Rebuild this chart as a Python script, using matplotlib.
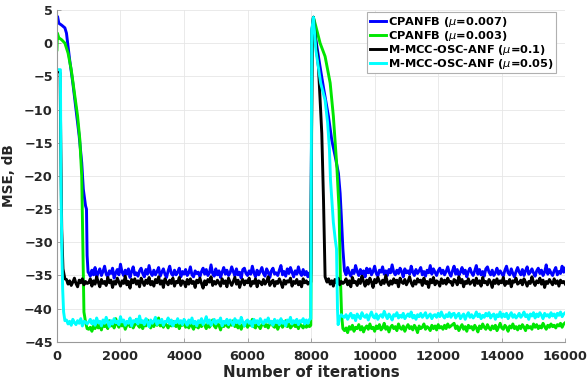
import numpy as np
import matplotlib
matplotlib.use("Agg")
import matplotlib.pyplot as plt

plt.rcParams["font.family"] = ["DejaVu Sans"]

# iteration grids for the two steady-state stretches
ss1_it = np.arange(1000, 8000, 50)
ss2_it = np.arange(9050, 16001, 50)

# ---- CPANFB (mu=0.007), blue
blue_head_x = [0, 20, 60, 150, 250, 300, 400, 500, 600, 700, 780, 830, 870, 900, 930, 950, 980]
blue_head_y = [3.5, 4.0, 3.0, 2.7, 2.3, 1.5, -2.5, -6.0, -10.0, -14.0, -18.0, -22.0, -23.5, -24.5, -25.0, -32.0, -34.5]
blue_ss1 = [-34.6, -35.1, -34.2, -34.9, -33.8, -35.3, -34.5, -34.0, -35.0, -34.4,
            -33.6, -34.8, -35.2, -34.3, -34.7, -33.9, -35.4, -34.6, -34.1, -34.9,
            -33.3, -34.5, -35.0, -34.2, -34.8, -34.0, -35.3, -34.4, -33.7, -34.9,
            -34.6, -35.1, -34.3, -33.9, -34.7, -35.2, -34.1, -34.8, -33.5, -34.6,
            -35.0, -34.2, -34.9, -34.4, -33.8, -35.1, -34.5, -34.0, -34.8, -35.3,
            -34.3, -33.6, -34.7, -35.0, -34.2, -34.9, -34.5, -33.9, -35.2, -34.4,
            -34.8, -34.1, -35.0, -34.6, -33.7, -34.9, -35.2, -34.3, -34.7, -34.5,
            -35.2, -34.4, -33.9, -34.8, -34.1, -35.0, -34.6, -33.4, -34.7, -35.1,
            -34.0, -34.9, -34.3, -35.3, -34.5, -33.8, -34.8, -34.2, -35.0, -34.6,
            -33.7, -34.4, -35.1, -34.0, -34.9, -34.5, -35.4, -34.1, -33.9, -34.7,
            -35.0, -34.3, -34.8, -33.6, -34.6, -35.2, -34.2, -34.9, -34.4, -33.8,
            -34.7, -35.1, -34.0, -34.5, -35.3, -34.3, -33.9, -34.8, -34.6, -35.0,
            -34.2, -33.5, -34.9, -34.4, -35.1, -34.0, -34.7, -33.8, -34.5, -35.2,
            -34.3, -34.8, -33.7, -34.6, -35.0, -34.1, -34.9, -34.4, -35.2, -34.6]
blue_mid_x = [7990, 8030, 8073, 8150, 8280, 8400, 8545, 8650, 8755, 8860, 8913, 8950, 9000]
blue_mid_y = [-34.8, 2.0, 3.9, 0.5, -3.5, -7.0, -11.0, -14.6, -17.0, -19.6, -22.6, -26.0, -31.0]
blue_ss2 = [-34.3, -34.9, -33.8, -34.6, -35.1, -34.2, -34.7, -33.5, -34.4, -35.0,
            -34.1, -34.8, -34.3, -35.2, -33.9, -34.6, -34.0, -34.9, -34.4, -33.6,
            -34.7, -35.1, -34.2, -34.5, -33.7, -34.8, -34.3, -35.0, -34.1, -34.6,
            -33.4, -34.5, -34.9, -34.2, -34.7, -33.9, -34.4, -35.2, -34.0, -34.6,
            -34.3, -34.8, -33.6, -34.5, -35.0, -34.1, -34.7, -34.3, -33.8, -34.9,
            -34.4, -35.1, -34.2, -34.6, -33.5, -34.8, -34.0, -34.5, -35.0, -34.3,
            -33.9, -34.7, -34.2, -34.9, -34.4, -33.7, -34.6, -35.1, -34.3, -33.6,
            -34.8, -34.1, -35.0, -34.5, -33.8, -34.7, -34.2, -35.2, -34.4, -33.9,
            -34.6, -35.0, -34.3, -33.5, -34.8, -34.1, -34.9, -34.4, -35.1, -34.0,
            -33.7, -34.5, -34.9, -34.2, -35.0, -34.6, -33.9, -34.8, -34.3, -34.7,
            -35.1, -34.2, -33.6, -34.6, -34.9, -34.0, -34.7, -35.2, -34.4, -33.8,
            -34.5, -34.9, -34.1, -35.0, -34.3, -33.7, -34.8, -34.5, -34.0, -34.6,
            -35.1, -34.3, -33.9, -34.7, -34.2, -35.0, -34.5, -33.4, -34.8, -34.1,
            -34.6, -35.0, -34.3, -33.8, -34.9, -34.4, -34.7, -33.6, -34.5, -33.9]

# ---- CPANFB (mu=0.003), green
green_head_x = [0, 15, 60, 150, 250, 350, 450, 550, 650, 720, 780, 800, 830, 850, 900, 950]
green_head_y = [-1.0, 1.5, 0.8, 0.5, 0.0, -1.5, -4.0, -7.5, -11.0, -14.5, -20.0, -26.0, -35.0, -40.5, -42.0, -43.0]
green_ss1 = [-43.1, -42.8, -43.4, -42.6, -43.0, -42.3, -42.9, -42.5, -43.2, -42.1,
             -42.7, -42.4, -43.0, -41.8, -42.6, -42.2, -42.9, -41.5, -42.4, -42.8,
             -42.0, -42.6, -42.3, -43.1, -42.5, -41.9, -42.7, -42.2, -42.9, -42.4,
             -41.6, -42.5, -42.8, -42.1, -43.0, -42.3, -42.6, -41.7, -42.4, -42.9,
             -42.2, -42.7, -42.0, -42.5, -41.4, -42.6, -42.3, -42.8, -42.1, -42.5,
             -42.9, -42.2, -42.6, -41.9, -42.4, -42.7, -42.0, -43.0, -42.3, -42.5,
             -42.1, -42.8, -42.4, -42.9, -42.2, -42.6, -43.1, -42.4, -42.7, -42.9,
             -42.3, -42.7, -41.9, -42.5, -43.0, -42.2, -42.8, -42.4, -41.7, -42.6,
             -42.9, -42.1, -42.5, -43.2, -42.3, -42.7, -42.0, -42.6, -42.8, -42.2,
             -42.5, -41.8, -42.7, -42.3, -42.9, -42.1, -43.1, -42.4, -42.6, -42.0,
             -42.8, -42.3, -42.5, -41.6, -42.7, -42.9, -42.2, -42.6, -43.0, -42.4,
             -42.1, -42.7, -42.4, -42.9, -42.3, -41.9, -42.6, -42.8, -42.2, -43.1,
             -42.5, -42.2, -42.8, -42.4, -41.8, -42.7, -42.3, -42.9, -42.6, -42.1,
             -42.7, -42.4, -43.0, -42.3, -42.6, -42.9, -42.2, -42.8, -42.5, -42.7]
green_mid_x = [7990, 8030, 8073, 8150, 8283, 8440, 8600, 8700, 8810, 8880, 8920, 8960, 9000]
green_mid_y = [-42.5, 1.5, 3.9, 2.5, 0.0, -2.0, -6.0, -11.0, -18.6, -25.0, -35.0, -41.0, -43.0]
green_ss2 = [-43.3, -42.9, -43.6, -42.7, -43.1, -42.5, -43.4, -42.8, -43.0, -42.4,
             -43.2, -42.7, -43.5, -42.9, -42.6, -43.1, -42.3, -43.0, -42.8, -43.4,
             -42.6, -43.0, -42.4, -43.2, -42.9, -42.2, -43.1, -42.7, -43.5, -42.8,
             -42.5, -43.0, -42.7, -43.3, -42.3, -42.9, -43.1, -42.6, -43.4, -42.8,
             -42.4, -43.0, -42.7, -43.2, -42.5, -42.9, -43.6, -42.6, -43.0, -42.8,
             -42.3, -43.1, -42.7, -42.9, -43.3, -42.5, -43.0, -42.6, -43.2, -42.4,
             -42.9, -42.7, -43.1, -42.5, -43.0, -42.3, -42.8, -42.6, -42.4, -42.2,
             -43.0, -42.6, -43.3, -42.8, -42.4, -43.1, -42.7, -43.4, -42.5, -42.9,
             -42.7, -43.2, -42.5, -42.9, -43.5, -42.6, -43.0, -42.3, -42.8, -43.1,
             -42.4, -42.9, -43.2, -42.6, -43.0, -42.5, -43.3, -42.8, -42.2, -42.9,
             -43.1, -42.5, -42.8, -43.4, -42.6, -42.9, -42.3, -43.0, -42.7, -43.2,
             -42.6, -43.0, -42.4, -42.8, -43.3, -42.5, -42.9, -42.7, -43.1, -42.3,
             -42.8, -42.4, -43.0, -42.6, -42.9, -42.2, -42.7, -43.1, -42.5, -42.8,
             -42.3, -42.7, -42.5, -42.9, -42.4, -42.6, -42.2, -42.8, -42.3, -42.1]

# ---- M-MCC-OSC-ANF (mu=0.1), black
black_head_x = [0, 100, 120, 150, 190, 250, 300, 350, 400, 450, 500, 550, 600, 650,
                700, 750, 800, 850, 900, 950]
black_head_y = [-4.0, -4.5, -15.0, -28.0, -34.0, -35.5, -35.6, -36.3, -35.8, -36.5,
                -36.0, -35.4, -36.2, -36.7, -35.7, -36.1, -35.5, -36.4, -35.9, -36.2]
black_ss1 = [-36.1, -35.5, -36.6, -35.8, -36.3, -35.2, -36.0, -36.7, -35.6, -36.2,
             -35.9, -36.5, -35.3, -36.1, -35.7, -36.8, -35.9, -36.3, -35.4, -36.0,
             -36.6, -35.8, -36.2, -35.1, -36.4, -35.9, -36.9, -35.6, -36.1, -35.5,
             -36.3, -35.8, -36.7, -35.4, -36.0, -36.5, -35.7, -36.2, -35.3, -36.4,
             -35.9, -36.6, -35.6, -36.1, -35.2, -36.3, -35.8, -36.8, -35.5, -36.0,
             -36.4, -35.7, -36.2, -35.4, -36.6, -35.9, -36.1, -35.3, -36.5, -35.8,
             -36.0, -36.7, -35.6, -36.3, -35.5, -36.2, -35.9, -36.8, -35.7, -36.1,
             -35.4, -36.2, -36.9, -35.8, -36.4, -35.6, -36.0, -35.2, -36.5, -35.9,
             -36.3, -35.7, -36.1, -36.6, -35.5, -36.2, -35.8, -36.7, -35.4, -36.0,
             -36.5, -35.9, -35.3, -36.3, -35.7, -36.8, -36.0, -35.6, -36.4, -35.8,
             -36.1, -35.4, -36.6, -35.9, -36.2, -35.5, -36.7, -35.8, -36.0, -36.4,
             -35.6, -36.3, -35.9, -35.2, -36.5, -36.0, -35.7, -36.6, -35.9, -36.2,
             -35.5, -36.1, -36.8, -35.7, -36.3, -35.8, -36.0, -35.4, -36.6, -35.9,
             -36.2, -35.6, -36.4, -35.9, -36.7, -35.5, -36.1, -35.8, -36.3, -36.0]
black_mid_x = [7990, 8030, 8073, 8150, 8230, 8336, 8390, 8420, 8440, 8500, 8550, 8600,
               8650, 8700, 8750, 8800, 8850, 8900, 8950, 9000]
black_mid_y = [-36.0, 2.0, 3.9, 0.0, -3.5, -13.6, -23.6, -31.0, -35.2, -36.0, -35.5, -36.3,
               -35.8, -36.6, -35.6, -36.1, -35.4, -36.4, -35.9, -36.2]
black_ss2 = [-36.0, -35.5, -36.4, -35.8, -36.7, -35.3, -36.1, -35.9, -36.5, -35.6,
             -36.2, -35.1, -35.9, -36.6, -35.7, -36.3, -35.4, -36.0, -36.8, -35.6,
             -36.1, -35.3, -35.9, -36.4, -35.7, -36.2, -35.0, -36.0, -36.5, -35.8,
             -36.3, -35.5, -36.1, -35.7, -36.7, -35.4, -36.0, -36.2, -35.6, -36.4,
             -35.9, -35.2, -36.1, -36.6, -35.8, -36.3, -35.5, -36.0, -35.7, -36.5,
             -35.4, -36.2, -35.9, -36.8, -35.6, -36.1, -35.3, -36.4, -35.8, -36.0,
             -36.6, -35.5, -36.2, -35.7, -36.3, -35.4, -36.0, -35.9, -36.5, -35.6,
             -35.8, -36.4, -35.2, -36.1, -35.6, -36.7, -35.9, -36.2, -35.5, -36.3,
             -36.0, -35.7, -36.5, -35.4, -36.2, -35.8, -36.6, -35.3, -36.1, -35.9,
             -36.4, -35.6, -36.0, -36.8, -35.7, -36.2, -35.5, -36.3, -35.8, -36.1,
             -35.3, -36.5, -35.9, -36.2, -35.6, -36.7, -35.8, -36.0, -35.4, -36.3,
             -36.1, -35.7, -36.4, -35.5, -36.0, -36.6, -35.9, -36.2, -35.2, -36.0,
             -36.5, -35.8, -36.1, -35.4, -36.3, -35.7, -36.8, -35.9, -36.2, -35.6,
             -36.0, -36.4, -35.5, -36.2, -35.8, -36.6, -35.7, -36.1, -35.9, -36.3]

# ---- M-MCC-OSC-ANF (mu=0.05), cyan
cyan_head_x = [0, 110, 115, 125, 150, 180, 210, 250, 300, 350, 400, 450, 500, 550, 600,
               650, 700, 750, 800, 850, 900, 950]
cyan_head_y = [-4.0, -4.0, -10.0, -20.0, -30.0, -37.0, -40.5, -41.8, -41.7, -42.3, -41.9,
               -42.5, -41.6, -42.1, -42.4, -41.8, -42.2, -41.5, -42.6, -41.9, -42.0, -42.3]
cyan_ss1 = [-42.0, -41.6, -42.3, -41.8, -42.5, -41.4, -42.1, -41.9, -42.6, -41.7,
            -42.2, -41.3, -42.0, -42.7, -41.8, -42.3, -41.5, -42.1, -41.9, -42.4,
            -41.2, -42.0, -41.7, -42.5, -41.9, -42.2, -41.4, -42.6, -41.8, -42.0,
            -41.6, -42.3, -41.1, -42.1, -41.8, -42.4, -41.5, -42.0, -42.7, -41.7,
            -42.2, -41.9, -41.3, -42.4, -41.8, -42.1, -41.6, -42.5, -41.9, -42.0,
            -41.4, -42.3, -41.7, -42.6, -41.9, -42.1, -41.5, -42.2, -41.8, -42.4,
            -41.6, -42.0, -42.5, -41.7, -42.2, -41.4, -42.3, -41.9, -42.6, -41.8,
            -42.1, -41.5, -42.4, -41.9, -41.2, -42.2, -41.7, -42.5, -42.0, -41.6,
            -42.3, -41.8, -42.0, -41.4, -42.6, -41.9, -42.2, -41.6, -42.4, -41.7,
            -42.0, -42.5, -41.5, -42.1, -41.8, -42.3, -41.3, -42.0, -42.6, -41.9,
            -41.7, -42.2, -41.9, -42.7, -41.6, -42.1, -41.8, -42.4, -41.5, -42.0,
            -42.3, -41.7, -42.0, -41.4, -42.2, -41.9, -42.5, -41.6, -42.1, -41.8,
            -42.4, -41.5, -42.2, -41.9, -42.6, -41.7, -42.0, -41.3, -42.3, -41.8,
            -42.1, -41.6, -42.4, -41.8, -42.0, -41.5, -42.3, -41.7, -42.2, -41.6]
cyan_mid_x = [7990, 8020, 8073, 8150, 8300, 8440, 8520, 8577, 8610, 8700, 8760, 8800,
              8830, 8850, 8900, 8950, 9000]
cyan_mid_y = [-41.5, 2.0, 3.9, -1.0, -6.0, -8.6, -12.0, -16.0, -20.6, -27.0, -29.6, -31.0,
              -40.0, -42.4, -41.3, -40.9, -41.2]
cyan_ss2 = [-41.3, -40.9, -41.6, -41.1, -40.7, -41.4, -41.0, -41.8, -40.8, -41.2,
            -41.5, -40.6, -41.1, -41.3, -40.9, -41.7, -41.0, -40.5, -41.2, -41.4,
            -40.8, -41.6, -41.1, -40.9, -41.3, -40.4, -41.0, -41.5, -40.8, -41.2,
            -41.7, -40.9, -41.1, -40.6, -41.4, -41.0, -41.3, -40.7, -41.5, -41.1,
            -40.8, -41.2, -40.5, -41.4, -41.0, -41.6, -40.9, -41.2, -40.7, -41.3,
            -41.0, -40.6, -41.4, -41.1, -40.8, -41.5, -41.0, -40.9, -41.3, -40.7,
            -41.2, -40.5, -41.1, -41.4, -40.9, -41.2, -40.6, -41.3, -40.8, -40.7,
            -41.4, -41.0, -40.7, -41.5, -41.1, -40.8, -41.6, -41.0, -40.6, -41.3,
            -40.9, -41.4, -41.1, -40.5, -41.2, -40.8, -41.5, -41.0, -41.3, -40.7,
            -41.1, -40.6, -41.4, -41.0, -40.8, -41.6, -40.9, -41.2, -40.5, -41.3,
            -40.8, -41.2, -40.7, -41.5, -41.0, -40.6, -41.3, -40.9, -41.4, -41.1,
            -40.7, -41.3, -41.0, -40.5, -41.2, -40.9, -41.6, -40.8, -41.1, -40.6,
            -41.4, -40.8, -41.2, -40.6, -41.0, -41.5, -40.7, -41.1, -40.9, -41.3,
            -40.6, -41.1, -40.8, -41.4, -40.7, -41.0, -40.5, -41.2, -40.8, -40.6]

labels = [r"CPANFB ($\mu$=0.007)", r"CPANFB ($\mu$=0.003)",
          r"M-MCC-OSC-ANF ($\mu$=0.1)", r"M-MCC-OSC-ANF ($\mu$=0.05)"]
colors = ["#0000ff", "#00e600", "#000000", "#00ffff"]


def series(hx, hy, s1, mx, my, s2):
    x = np.concatenate([hx, ss1_it, mx, ss2_it])
    y = np.concatenate([hy, s1, my, s2])
    return x, y


curves = [series(blue_head_x, blue_head_y, blue_ss1, blue_mid_x, blue_mid_y, blue_ss2),
          series(green_head_x, green_head_y, green_ss1, green_mid_x, green_mid_y, green_ss2),
          series(black_head_x, black_head_y, black_ss1, black_mid_x, black_mid_y, black_ss2),
          series(cyan_head_x, cyan_head_y, cyan_ss1, cyan_mid_x, cyan_mid_y, cyan_ss2)]

fig = plt.figure(figsize=(5.87, 3.82), dpi=100)
ax = fig.add_axes([0.097, 0.105, 0.866, 0.869])

for (x, y), c, lab in zip(curves, colors, labels):
    ax.plot(x, y, color=c, lw=2.1, label=lab)

ax.set_xlim(0, 16000)
ax.set_ylim(-45, 5)
ax.set_xticks(np.arange(0, 16001, 2000))
ax.set_yticks(np.arange(-45, 6, 5))
ax.grid(True, color="#e6e6e6", lw=0.6)
ax.set_axisbelow(True)
for s in ("top", "right"):
    ax.spines[s].set_visible(False)
for s in ("left", "bottom"):
    ax.spines[s].set_color("#999999")
    ax.spines[s].set_linewidth(0.8)
ax.tick_params(direction="in", length=3, width=0.6, color="#999999",
               labelsize=9.3, labelcolor="#262626")
ax.tick_params(axis="x", pad=5.5)
ax.tick_params(axis="y", pad=3)
for t in ax.get_xticklabels() + ax.get_yticklabels():
    t.set_fontweight("bold")
ax.set_xlabel("Number of iterations", fontsize=10.8, fontweight="bold", color="#262626", labelpad=2)
ax.set_ylabel("MSE, dB", fontsize=9.8, fontweight="bold", color="#262626", labelpad=6)

leg = ax.legend(loc="upper right", bbox_to_anchor=(0.982, 0.993),
                prop={"weight": "bold", "size": 8.2}, handlelength=1.4, handletextpad=0.2,
                labelspacing=0.0, borderpad=0.2, borderaxespad=0, fancybox=False,
                framealpha=1, edgecolor="#b0b0b0")
leg.get_frame().set_linewidth(0.8)

fig.savefig("out.png", dpi=100)
